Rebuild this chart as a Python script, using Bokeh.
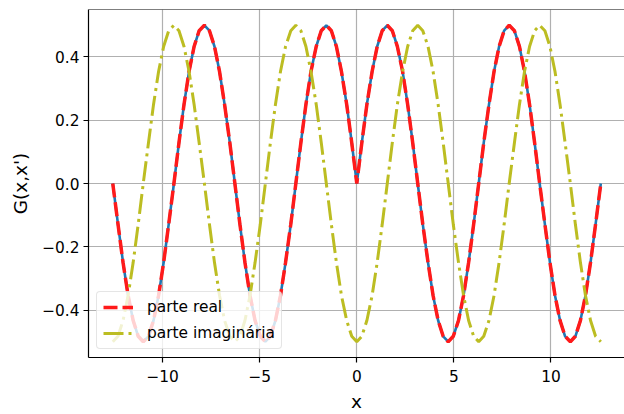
from bokeh.plotting import figure
from bokeh.models import FixedTicker, Span, Range1d, Legend
from bokeh.embed import file_html
from bokeh.resources import INLINE

# ---- data ----
x_vals = [-12.57, -12.30, -12.04, -11.78, -11.52, -11.26, -11.00, -10.73, -10.47, -10.21,
          -9.95, -9.69, -9.42, -9.16, -8.90, -8.64, -8.38, -8.12, -7.85, -7.59,
          -7.33, -7.07, -6.81, -6.54, -6.28, -6.02, -5.76, -5.50, -5.24, -4.97,
          -4.71, -4.45, -4.19, -3.93, -3.67, -3.40, -3.14, -2.88, -2.62, -2.36,
          -2.09, -1.83, -1.57, -1.31, -1.05, -0.79, -0.52, -0.26,
          0.0,
          0.26, 0.52, 0.79, 1.05, 1.31, 1.57, 1.83, 2.09, 2.36, 2.62,
          2.88, 3.14, 3.40, 3.67, 3.93, 4.19, 4.45, 4.71, 4.97, 5.24,
          5.50, 5.76, 6.02, 6.28, 6.54, 6.81, 7.07, 7.33, 7.59, 7.85,
          8.12, 8.38, 8.64, 8.90, 9.16, 9.42, 9.69, 9.95, 10.21, 10.47,
          10.73, 11.00, 11.26, 11.52, 11.78, 12.04, 12.30, 12.57]

real_part = [0.0, -0.129, -0.25, -0.354, -0.433, -0.483, -0.5, -0.483, -0.433, -0.354,
             -0.25, -0.129, 0.0, 0.129, 0.25, 0.354, 0.433, 0.483, 0.5, 0.483,
             0.433, 0.354, 0.25, 0.129, 0.0, -0.129, -0.25, -0.354, -0.433, -0.483,
             -0.5, -0.483, -0.433, -0.354, -0.25, -0.129, 0.0, 0.129, 0.25, 0.354,
             0.433, 0.483, 0.5, 0.483, 0.433, 0.354, 0.25, 0.129,
             0.0,
             0.129, 0.25, 0.354, 0.433, 0.483, 0.5, 0.483, 0.433, 0.354, 0.25,
             0.129, 0.0, -0.129, -0.25, -0.354, -0.433, -0.483, -0.5, -0.483, -0.433,
             -0.354, -0.25, -0.129, 0.0, 0.129, 0.25, 0.354, 0.433, 0.483, 0.5,
             0.483, 0.433, 0.354, 0.25, 0.129, 0.0, -0.129, -0.25, -0.354, -0.433,
             -0.483, -0.5, -0.483, -0.433, -0.354, -0.25, -0.129, 0.0]

imag_part = [-0.5, -0.483, -0.433, -0.354, -0.25, -0.129, 0.0, 0.129, 0.25, 0.354,
             0.433, 0.483, 0.5, 0.483, 0.433, 0.354, 0.25, 0.129, 0.0, -0.129,
             -0.25, -0.354, -0.433, -0.483, -0.5, -0.483, -0.433, -0.354, -0.25, -0.129,
             0.0, 0.129, 0.25, 0.354, 0.433, 0.483, 0.5, 0.483, 0.433, 0.354,
             0.25, 0.129, 0.0, -0.129, -0.25, -0.354, -0.433, -0.483,
             -0.5,
             -0.483, -0.433, -0.354, -0.25, -0.129, 0.0, 0.129, 0.25, 0.354, 0.433,
             0.483, 0.5, 0.483, 0.433, 0.354, 0.25, 0.129, 0.0, -0.129, -0.25,
             -0.354, -0.433, -0.483, -0.5, -0.483, -0.433, -0.354, -0.25, -0.129, 0.0,
             0.129, 0.25, 0.354, 0.433, 0.483, 0.5, 0.483, 0.433, 0.354, 0.25,
             0.129, 0.0, -0.129, -0.25, -0.354, -0.433, -0.483, -0.5]

x_ticks = [-10, -5, 0, 5, 10]
x_tick_labels = ["\u221210", "\u22125", "0", "5", "10"]
y_ticks = [-0.4, -0.2, 0.0, 0.2, 0.4]
y_tick_labels = ["\u22120.4", "\u22120.2", "0.0", "0.2", "0.4"]

x_start, x_end = -13.82, 13.79
y_start, y_end = -0.55, 0.55

FONT = "DejaVu Sans"

p = figure(width=624, height=414, output_backend="svg", toolbar_location=None,
           x_range=Range1d(x_start, x_end), y_range=Range1d(y_start, y_end),
           min_border_left=88, min_border_right=0, min_border_top=9, min_border_bottom=57)
p.outline_line_color = None
p.background_fill_color = "white"
p.border_fill_color = "white"

# lines
p.line(x_vals, real_part, line_color="#1f77b4", line_width=2.6)
r_real = p.line(x_vals, real_part, line_color="#ff1a1a", line_width=3.5, line_dash="14 5")
r_imag = p.line(x_vals, imag_part, line_color="#bcbd22", line_width=3.0, line_dash="20 5 3 5")

# axes
for ax in (p.xaxis[0], p.yaxis[0]):
    ax.axis_line_color = "black"
    ax.axis_line_width = 1.2
    ax.major_tick_line_color = "black"
    ax.major_tick_line_width = 1.2
    ax.major_tick_out = 5
    ax.major_tick_in = 0
    ax.minor_tick_line_color = None
    ax.major_label_text_font = FONT
    ax.major_label_text_font_size = "15.4px"
    ax.major_label_text_color = "black"
    ax.axis_label_text_font = FONT
    ax.axis_label_text_font_size = "18.5px"
    ax.axis_label_text_font_style = "normal"
    ax.axis_label_text_color = "black"

p.xaxis.ticker = FixedTicker(ticks=x_ticks)
p.xaxis.major_label_overrides = dict(zip(x_ticks, x_tick_labels))
p.yaxis.ticker = FixedTicker(ticks=y_ticks)
p.yaxis.major_label_overrides = dict(zip(y_ticks, y_tick_labels))
p.xaxis.axis_label = "x"
p.yaxis.axis_label = "G(x,x')"
p.xaxis.major_label_standoff = 7
p.xaxis.axis_label_standoff = 6
p.yaxis.major_label_standoff = 4
p.yaxis.axis_label_standoff = 8

# top spine
p.add_layout(Span(location=y_end, dimension="width", line_color="black", line_width=1.2))

# grid
p.grid.grid_line_color = "#b0b0b0"
p.grid.grid_line_width = 1.2

# legend
legend = Legend(items=[("parte real", [r_real]), ("parte imagin\u00e1ria", [r_imag])],
                location="bottom_left")
legend.label_text_font = FONT
legend.label_text_font_size = "15.4px"
legend.label_text_color = "black"
legend.glyph_width = 30
legend.glyph_height = 16
legend.label_height = 16
legend.label_standoff = 14
legend.spacing = 8
legend.padding = 6
legend.margin = 8
legend.border_line_color = "#cccccc"
legend.border_line_width = 1
legend.border_radius = 4
legend.background_fill_color = "white"
legend.background_fill_alpha = 0.8
p.add_layout(legend, "center")

open("out.html", "w").write(file_html(p, INLINE))
